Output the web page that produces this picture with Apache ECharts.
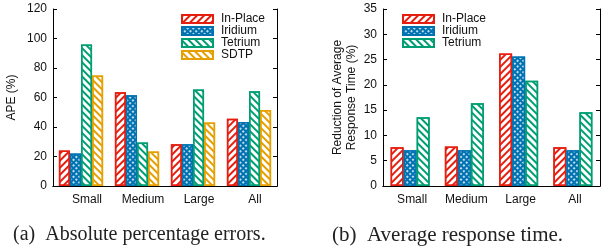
<!DOCTYPE html>
<html>
<head>
<meta charset="utf-8">
<script src="https://cdn.jsdelivr.net/npm/echarts@6/dist/echarts.min.js"></script>
<style>
  html, body { margin: 0; padding: 0; background: #fff; }
  #main { width: 601px; height: 248px; }
</style>
</head>
<body>
<div id="main"></div>
<script>
  // 数据
  var categories = ['Small', 'Medium', 'Large', 'All'];
  var apeInPlace = [24, 63.5, 28.3, 45.6];
  var apeIridium = [22, 61.5, 28.3, 43.4];
  var apeTetrium = [96, 29.5, 65.5, 64.3];
  var apeSDTP = [75, 23.4, 43, 51.5];
  var rtInPlace = [7.65, 7.8, 26.2, 7.65];
  var rtIridium = [7.05, 7.05, 25.6, 7.05];
  var rtTetrium = [13.6, 16.35, 20.8, 14.6];

  var RED = '#e51e10', BLUE = '#0072b2', GREEN = '#009e73', ORANGE = '#e69f00';
  var FONT = 'Liberation Sans, Arial, sans-serif';

  // 斜线填充
  function hatch(color, rot) {
    return {
      symbol: 'rect', symbolSize: 1, color: color,
      dashArrayX: [1, 0], dashArrayY: [1.3, 2.4], rotation: rot
    };
  }
  var dots = {
    symbol: 'circle', symbolSize: 1, color: '#fff',
    dashArrayX: [2, 1.4], dashArrayY: [2, 1.4], rotation: Math.PI / 4
  };

  function style(name) {
    if (name == 'In-Place') return {color: '#fff', borderColor: RED, borderWidth: 1.5, decal: hatch(RED, -Math.PI / 4)};
    if (name == 'Iridium') return {color: BLUE, borderColor: BLUE, borderWidth: 1.5, decal: dots};
    if (name == 'Tetrium') return {color: '#fff', borderColor: GREEN, borderWidth: 1.5, decal: hatch(GREEN, Math.PI / 4)};
    return {color: '#fff', borderColor: ORANGE, borderWidth: 1.5, decal: hatch(ORANGE, Math.PI / 4)};
  }

  function bar(name, data, idx, gap) {
    return {
      name: name, type: 'bar', xAxisIndex: idx, yAxisIndex: idx,
      data: data, barGap: '0%', barCategoryGap: gap,
      itemStyle: style(name.trim()), emphasis: {disabled: true}
    };
  }

  var lineStyle = {color: '#000', width: 1};
  function xBottom(grid, pad) {
    return {
      type: 'category', gridIndex: grid, data: categories, position: 'bottom',
      axisLine: {lineStyle: lineStyle}, axisTick: {show: false},
      axisLabel: {color: '#111', fontSize: 12, fontFamily: FONT, margin: 8, padding: pad, interval: 0}
    };
  }
  function xTop(grid) {
    return {
      type: 'category', gridIndex: grid, data: categories, position: 'top',
      axisLine: {lineStyle: lineStyle},
      axisTick: {inside: true, length: 4, alignWithLabel: true, interval: 0, lineStyle: lineStyle},
      axisLabel: {show: false}
    };
  }
  function yAxis(grid, max, interval, pos, name, gap) {
    var left = pos == 'left';
    return {
      type: 'value', gridIndex: grid, min: 0, max: max, interval: interval, position: pos,
      name: left ? name : '', nameLocation: 'middle', nameGap: gap, nameRotate: 90,
      nameTextStyle: {color: '#111', fontSize: 12, fontFamily: FONT, lineHeight: 14},
      axisLine: {show: true, lineStyle: lineStyle},
      axisTick: {show: true, inside: true, length: 4, lineStyle: lineStyle},
      axisLabel: {show: left, color: '#111', fontSize: 12, fontFamily: FONT, margin: 6},
      splitLine: {show: false}
    };
  }

  function legend(names, left) {
    return {
      data: names, left: left, top: 8, orient: 'vertical',
      itemWidth: 31, itemHeight: 8, itemGap: 0,
      icon: 'rect', selectedMode: false,
      textStyle: {color: '#111', fontSize: 12, fontFamily: FONT, lineHeight: 12, padding: [0, 0, 0, 3]}
    };
  }

  var captionStyle = {fontFamily: 'Liberation Serif, serif', fontWeight: 'normal', fontSize: 20, color: '#222'};

  var option = {
    backgroundColor: '#fff',
    animation: false,
    grid: [
      {left: 53, right: 324, top: 9, bottom: 62},
      {left: 383, right: 1, top: 9, bottom: 62}
    ],
    xAxis: [xBottom(0, [0, 0, 0, 12]), xBottom(1, [0, 0, 0, 4]), xTop(0), xTop(1)],
    yAxis: [
      yAxis(0, 120, 20, 'left', 'APE (%)', 34),
      yAxis(1, 35, 5, 'left', 'Reduction of Average\nResponse Time (%)', 24),
      yAxis(0, 120, 20, 'right', '', 0),
      yAxis(1, 35, 5, 'right', '', 0)
    ],
    legend: [
      legend(['In-Place', 'Iridium', 'Tetrium', 'SDTP'], 176),
      legend(['In-Place ', 'Iridium ', 'Tetrium '], 397)
    ],
    title: [
      {text: '(a)  Absolute percentage errors.', left: 8, top: 220, textStyle: captionStyle},
      {text: '(b)  Average response time.', left: 327, top: 220,
        textStyle: Object.assign({}, captionStyle, {fontSize: 21})}
    ],
    series: [
      bar('In-Place', apeInPlace, 0, '21%'),
      bar('Iridium', apeIridium, 0, '21%'),
      bar('Tetrium', apeTetrium, 0, '21%'),
      bar('SDTP', apeSDTP, 0, '21%'),
      bar('In-Place ', rtInPlace, 1, '28%'),
      bar('Iridium ', rtIridium, 1, '28%'),
      bar('Tetrium ', rtTetrium, 1, '28%')
    ]
  };

  var myChart = echarts.init(document.getElementById('main'), null, {renderer: 'canvas'});
  myChart.setOption(option);
</script>
</body>
</html>
